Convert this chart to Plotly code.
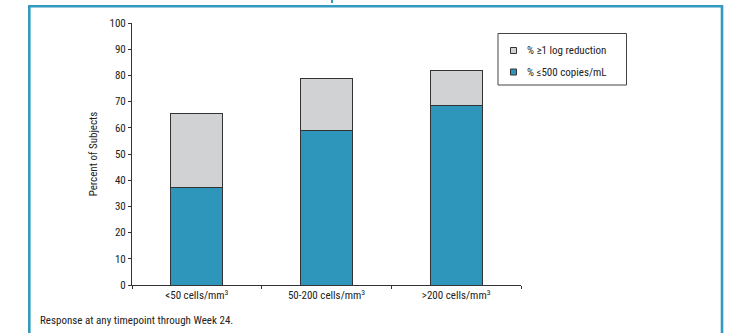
import plotly.graph_objects as go

# Response by baseline CD4 count
categories = ["<50 cells/mm<sup>3</sup>", "50-200 cells/mm<sup>3</sup>", ">200 cells/mm<sup>3</sup>"]
pct_le500 = [37.4, 59.1, 68.5]          # % <=500 copies/mL
pct_log_total = [65.6, 78.8, 81.8]       # % >=1 log reduction (total bar height)
pct_log_extra = [t - b for t, b in zip(pct_log_total, pct_le500)]

series_names = ["% \u22651 log reduction", "% \u2264500 copies/mL"]
y_ticks = list(range(0, 101, 10))
caption = "Response at any timepoint through Week 24."

BLUE = "#2E96BA"
GRAY = "#D1D2D4"
FRAME = "#3399BF"
TXT = "#222222"
FONT = "Liberation Sans Narrow, Roboto Condensed, DejaVu Sans Condensed, Arial Narrow, sans-serif"

W, H = 742, 333
L, R, T, B = 132, 221, 23, 48
PW = W - L - R
PH = H - T - B


def px(x):
    return (x - L) / PW


def py(y):
    return (H - B - y) / PH


fig = go.Figure()
fig.add_trace(go.Bar(x=categories, y=pct_le500, name=series_names[1],
                     marker=dict(color=BLUE, line=dict(color="#333333", width=1))))
fig.add_trace(go.Bar(x=categories, y=pct_log_extra, name=series_names[0],
                     marker=dict(color=GRAY, line=dict(color="#333333", width=1))))

shapes = [
    # outer frame
    dict(type="rect", xref="paper", yref="paper", x0=px(29.3), x1=px(722), y0=py(345), y1=py(6.2),
         line=dict(color=FRAME, width=2.6), fillcolor="rgba(0,0,0,0)", layer="below"),
    dict(type="line", xref="paper", yref="paper", x0=px(332), x1=px(332), y0=py(0), y1=py(3),
         line=dict(color=FRAME, width=2)),
    # legend box
    dict(type="rect", xref="paper", yref="paper", x0=px(498), x1=px(626.5), y0=py(85), y1=py(33.5),
         line=dict(color="#444444", width=1), fillcolor="white"),
]
annotations = []
legend_rows = [(series_names[0], GRAY, 50.5), (series_names[1], BLUE, 72)]
for label, color, yc in legend_rows:
    shapes.append(dict(type="rect", xref="paper", yref="paper", x0=px(510.5), x1=px(516.5),
                       y0=py(yc + 3), y1=py(yc - 3), line=dict(color="#333333", width=1), fillcolor=color))
    annotations.append(dict(text=label, xref="paper", yref="paper", x=px(524.5), y=py(yc),
                            xanchor="left", yanchor="middle", showarrow=False,
                            font=dict(size=11, color=TXT, family=FONT)))

annotations.append(dict(text=caption, xref="paper", yref="paper", x=px(37.5), y=py(320),
                        xanchor="left", yanchor="middle", showarrow=False,
                        font=dict(size=11, color=TXT, family=FONT)))

fig.update_layout(
    width=W, height=H,
    margin=dict(l=L, r=R, t=T, b=B),
    paper_bgcolor="white", plot_bgcolor="white",
    barmode="stack", bargap=0.6,
    showlegend=False,
    font=dict(family=FONT, size=11, color=TXT),
    shapes=shapes, annotations=annotations,
    xaxis=dict(type="category", range=[-0.5, 2.5], showline=True, linecolor="#333333", linewidth=1,
               ticks="outside", tickson="boundaries", ticklen=3, tickcolor="#333333",
               showgrid=False, tickfont=dict(size=11, color=TXT, family=FONT), fixedrange=True),
    yaxis=dict(range=[0, 100], tickvals=y_ticks, showline=True, linecolor="#333333", linewidth=1,
               ticks="outside", ticklen=3, tickcolor="#333333", showgrid=False, zeroline=False,
               tickfont=dict(size=11, color=TXT, family=FONT),
               title=dict(text="Percent of Subjects", font=dict(size=11, color=TXT, family=FONT), standoff=9),
               fixedrange=True),
)

fig.write_html("out.html")
